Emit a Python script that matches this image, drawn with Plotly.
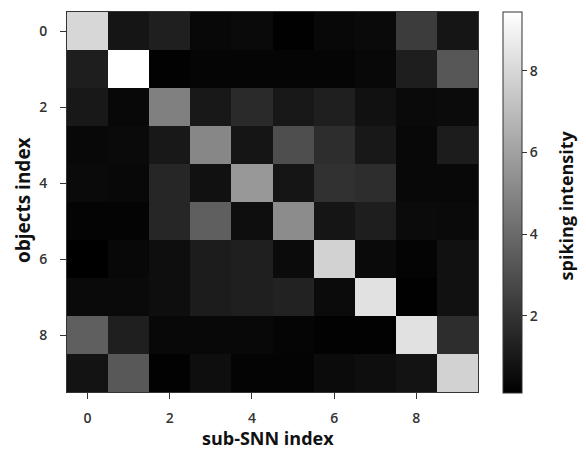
import plotly.graph_objects as go

# sub-SNN index (columns) and objects index (rows)
sub_snn = list(range(10))
objects = list(range(10))

row0 = [8.0, 0.90, 1.27, 0.40, 0.47, 0.17, 0.40, 0.47, 2.30, 0.90]
row1 = [1.20, 9.45, 0.20, 0.32, 0.32, 0.32, 0.32, 0.40, 1.20, 3.30]
row2 = [1.00, 0.40, 4.80, 1.00, 1.64, 1.00, 1.27, 0.76, 0.47, 0.54]
row3 = [0.40, 0.47, 1.00, 5.05, 0.90, 2.96, 1.75, 1.00, 0.40, 1.13]
row4 = [0.47, 0.40, 1.50, 0.76, 5.68, 0.90, 1.93, 1.75, 0.40, 0.40]
row5 = [0.28, 0.28, 1.50, 3.60, 0.65, 5.24, 0.90, 1.20, 0.54, 0.47]
row6 = [0.12, 0.40, 0.65, 1.13, 1.27, 0.54, 7.80, 0.47, 0.28, 0.76]
row7 = [0.47, 0.47, 0.65, 1.13, 1.27, 1.38, 0.54, 8.35, 0.17, 0.76]
row8 = [3.60, 1.27, 0.40, 0.40, 0.40, 0.32, 0.20, 0.20, 8.35, 1.75]
row9 = [0.83, 3.33, 0.20, 0.65, 0.28, 0.28, 0.54, 0.65, 0.83, 7.80]
intensity = [row0, row1, row2, row3, row4, row5, row6, row7, row8, row9]

tick_vals = [0, 2, 4, 6, 8]
cbar_ticks = [2, 4, 6, 8]

font_fam = "Open Sans, DejaVu Sans, sans-serif"
tick_font = dict(family=font_fam, size=14, color="#333", weight=600)

fig = go.Figure(go.Heatmap(
    z=intensity, x=sub_snn, y=objects,
    colorscale=[[0, "black"], [1, "white"]],
    colorbar=dict(
        x=1.061, xanchor="left", xref="paper",
        y=0.5, yanchor="middle",
        xpad=0, ypad=0,
        thickness=19, thicknessmode="pixels",
        len=381, lenmode="pixels",
        outlinecolor="#333", outlinewidth=1,
        ticks="outside", ticklen=5, tickcolor="#333",
        tickvals=cbar_ticks,
        tickfont=tick_font,
    ),
))

# the page body adds an 8px offset, so the figure is 8px smaller
fig.update_layout(
    width=578, height=443,
    margin=dict(l=59, r=108, t=4, b=59, autoexpand=False),
    paper_bgcolor="white", plot_bgcolor="white",
    font=dict(family=font_fam),
    xaxis=dict(
        tickvals=tick_vals, ticks="outside", ticklen=6, tickcolor="#333",
        ticklabelstandoff=7, automargin=False,
        tickfont=tick_font,
        showgrid=False, zeroline=False,
        showline=True, linecolor="#333", linewidth=1, mirror=True,
        range=[-0.5, 9.5],
    ),
    yaxis=dict(
        tickvals=tick_vals, ticks="outside", ticklen=6, tickcolor="#333",
        ticklabelstandoff=10, automargin=False,
        tickfont=tick_font,
        showgrid=False, zeroline=False,
        showline=True, linecolor="#333", linewidth=1, mirror=True,
        range=[9.5, -0.5],
    ),
    annotations=[
        dict(text="<b>sub-SNN index</b>", xref="paper", yref="paper",
             x=0.49, y=-0.121, xanchor="center", yanchor="middle",
             showarrow=False,
             font=dict(family=font_fam, size=18, color="#111")),
        dict(text="<b>objects index</b>", xref="paper", yref="paper",
             x=-0.107, y=0.505, xanchor="center", yanchor="middle",
             textangle=-90, showarrow=False,
             font=dict(family=font_fam, size=19, color="#111")),
        dict(text="<b>spiking intensity</b>", xref="paper", yref="paper",
             x=1.215, y=0.492, xanchor="center", yanchor="middle",
             textangle=-90, showarrow=False,
             font=dict(family=font_fam, size=18, color="#111")),
    ],
)

fig.write_html("out.html")
